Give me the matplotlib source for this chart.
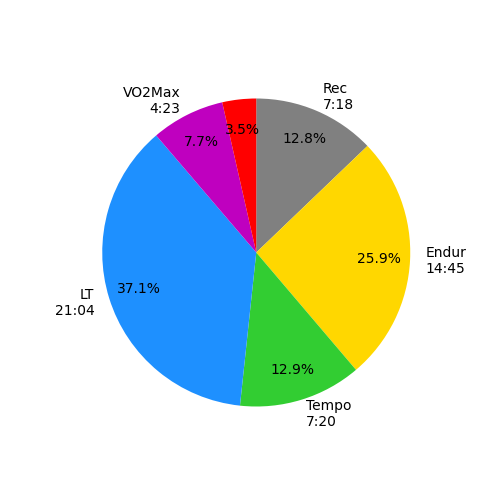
import matplotlib
matplotlib.use("Agg")
import matplotlib.pyplot as plt

labels = ["Rec\n7:18", "Endur\n14:45", "Tempo\n7:20", "LT\n21:04", "VO2Max\n4:23", ""]
seconds = [438, 885, 440, 1264, 263, 121]
colors = ["gray", "gold", "limegreen", "dodgerblue", "m", "r"]

fig, ax = plt.subplots(figsize=(5, 5), dpi=100)
ax.pie(seconds, labels=labels, colors=colors, autopct="%1.1f%%",
       pctdistance=0.8, startangle=90, counterclock=False)
fig.savefig("out.png")
